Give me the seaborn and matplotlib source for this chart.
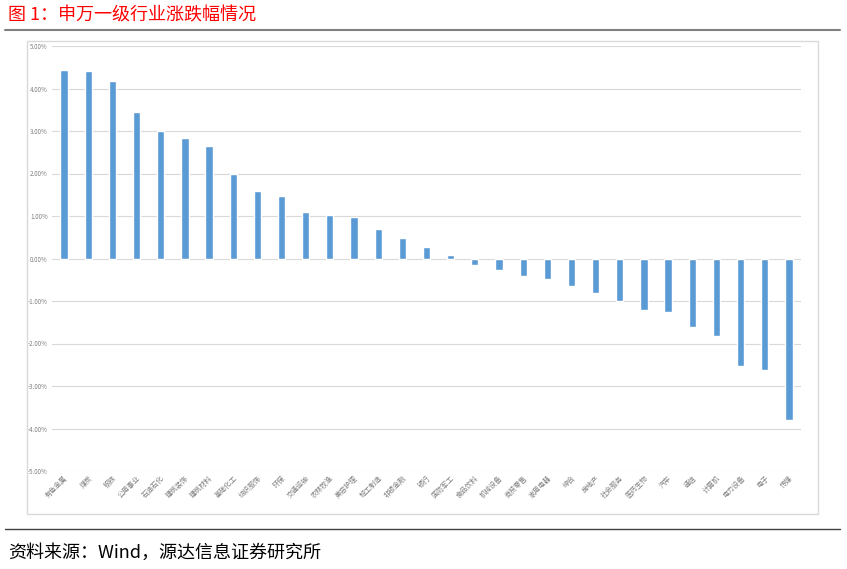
import matplotlib
matplotlib.use("Agg")
import matplotlib.pyplot as plt
import seaborn as sns
import pandas as pd
from matplotlib.patches import Rectangle
from matplotlib.lines import Line2D
from matplotlib.ticker import FuncFormatter, MultipleLocator

categories = ["有色金属", "煤炭", "钢铁", "公用事业", "石油石化", "建筑装饰", "建筑材料",
              "基础化工", "纺织服饰", "环保", "交通运输", "农林牧渔", "美容护理", "轻工制造",
              "非银金融", "银行", "国防军工", "食品饮料", "机械设备", "商贸零售", "家用电器",
              "综合", "房地产", "社会服务", "医药生物", "汽车", "通信", "计算机", "电力设备",
              "电子", "传媒"]
values = [4.43, 4.41, 4.17, 3.44, 2.99, 2.83, 2.65, 1.99, 1.60, 1.48, 1.09, 1.03, 0.97,
          0.70, 0.49, 0.27, 0.09, -0.15, -0.26, -0.40, -0.49, -0.65, -0.81, -1.00, -1.20,
          -1.25, -1.60, -1.83, -2.52, -2.63, -3.81]
title = "图 1：申万一级行业涨跌幅情况"
source = "资料来源：Wind，源达信息证券研究所"

sns.set_theme(style="white")
plt.rcParams['font.family'] = ['Noto Sans CJK SC', 'DejaVu Sans']
plt.rcParams['axes.unicode_minus'] = False

df = pd.DataFrame({"行业": categories, "涨跌幅": values})

fig = plt.figure(figsize=(8.47, 5.69), dpi=100)
W, H = 847, 569
ax = fig.add_axes([52 / W, 1 - 471 / H, (801 - 52) / W, (471 - 46) / H])

sns.barplot(data=df, x="行业", y="涨跌幅", color="#5B9BD5", saturation=1,
            width=0.3, ax=ax, zorder=3)

ax.set_ylim(-5, 5)
ax.set_xlim(-0.5, len(categories) - 0.5)
ax.yaxis.set_major_locator(MultipleLocator(1))
ax.yaxis.set_major_formatter(FuncFormatter(lambda v, p: f"{v:.2f}%"))
ax.grid(axis="y", color="#d9d9d9", linewidth=0.8, zorder=0)
ax.set_xlabel("")
ax.set_ylabel("")
for s in ax.spines.values():
    s.set_visible(False)
ax.tick_params(axis="y", labelsize=4.5, labelcolor="#7f7f7f", length=0, pad=3)
ax.tick_params(axis="x", labelsize=5, labelcolor="#7f7f7f", length=0, pad=2)
plt.setp(ax.get_xticklabels(), rotation=45, ha="right", rotation_mode="anchor")

# chart border
fig.patches.append(Rectangle((27 / W, 1 - 514 / H), (818 - 27) / W, (514 - 41) / H,
                             transform=fig.transFigure, fill=False,
                             edgecolor="#d9d9d9", linewidth=1.0))
# title and rules
fig.text(8 / W, 1 - 15 / H, title, color="#FF0000", fontsize=13, va="center", ha="left")
fig.add_artist(Line2D([5 / W, 840 / W], [1 - 30 / H, 1 - 30 / H], color="#808080",
                      linewidth=1.5, transform=fig.transFigure))
fig.add_artist(Line2D([5 / W, 840 / W], [1 - 529 / H, 1 - 529 / H], color="#404040",
                      linewidth=1.0, transform=fig.transFigure))
fig.text(8 / W, 1 - 553 / H, source, color="#000000", fontsize=13, va="center", ha="left")

fig.savefig("out.png", dpi=100)
